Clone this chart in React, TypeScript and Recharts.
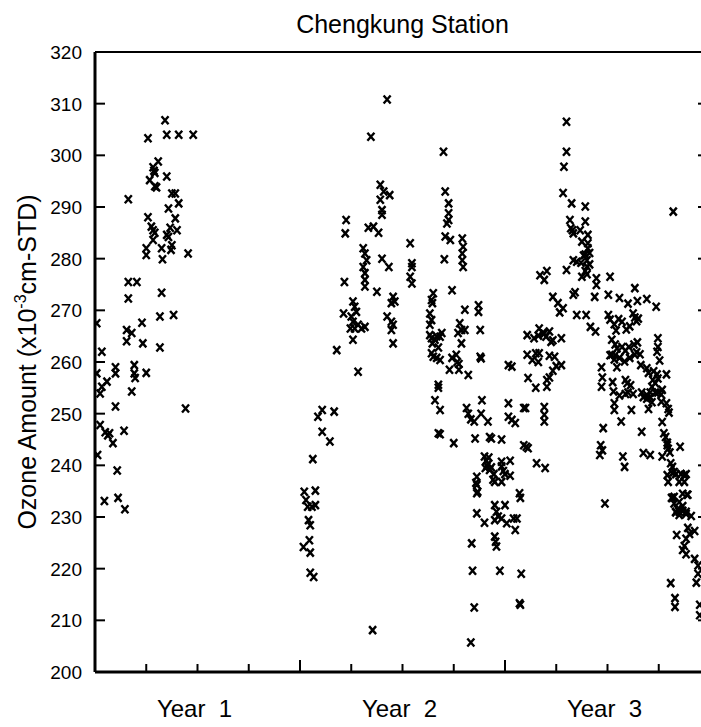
import { Scatter, ScatterChart, XAxis, YAxis } from "recharts";

// month index (0 = start of Year 1) and total ozone (10^-3 cm-STD)
const year1Obs: [number, number][] = [
  [0.1, 267.5], [0.4, 262.0], [0.1, 257.8], [0.4, 255.2], [0.3, 253.9], [0.7, 256.2], [1.2, 259.0], [1.2, 257.8],
  [2.3, 259.4], [2.3, 257.8], [2.35, 256.9], [3.0, 257.9], [2.15, 254.3], [1.2, 251.4], [5.3, 251.0], [0.3, 247.8],
  [0.6, 246.4], [0.75, 245.8], [0.85, 246.2], [1.05, 244.3], [1.7, 246.7], [0.15, 242.0], [1.3, 239.0], [0.55, 233.1],
  [1.35, 233.7], [1.75, 231.5], [1.95, 291.5], [3.1, 303.3], [4.1, 306.8], [4.2, 304.0], [4.9, 304.0], [5.75, 304.0],
  [3.4, 297.7], [3.45, 297.0], [3.5, 296.6], [3.7, 298.8], [3.2, 295.2], [3.5, 294.0], [3.6, 293.8], [4.2, 295.9],
  [4.5, 292.6], [4.7, 292.6], [4.9, 290.7], [4.3, 289.7], [4.7, 287.8], [3.1, 288.0], [3.3, 286.2], [3.4, 285.5],
  [3.5, 285.0], [3.4, 283.6], [3.0, 282.0], [3.0, 280.7], [4.2, 284.6], [4.3, 284.2], [4.4, 286.0], [4.8, 285.5],
  [4.5, 282.6], [4.45, 281.7], [3.9, 282.0], [3.95, 279.9], [5.45, 281.0], [1.95, 275.5], [2.45, 275.5], [1.95, 272.3],
  [3.9, 273.4], [3.8, 268.8], [4.6, 269.1], [2.75, 267.6], [1.85, 266.2], [2.15, 265.6], [1.85, 264.0], [2.8, 263.6],
  [3.8, 262.8],
];

const year2Obs: [number, number][] = [
  [12.25, 234.9], [12.35, 233.3], [12.45, 232.0], [12.7, 232.0], [12.9, 232.3], [12.5, 229.4], [12.6, 228.4],
  [12.55, 225.5], [12.2, 224.2], [12.6, 223.1], [12.6, 219.2], [12.8, 218.4], [12.75, 241.2], [12.9, 235.1],
  [13.05, 249.4], [13.3, 250.7], [14.0, 250.4], [13.3, 246.5], [13.75, 244.6],
  [14.7, 287.5], [14.65, 284.9], [14.6, 275.5], [14.55, 269.4], [14.15, 262.3],
  [15.1, 271.7], [15.2, 270.7], [15.3, 269.7], [15.0, 268.8], [15.1, 267.8], [15.4, 267.2], [14.95, 266.5],
  [15.2, 266.5], [15.6, 266.5], [15.8, 266.8], [15.1, 264.3], [15.4, 258.1], [16.25, 208.1],
  [17.1, 310.8], [16.15, 303.6], [16.7, 294.3], [16.9, 293.0], [17.25, 292.3], [16.7, 291.4], [16.8, 289.4],
  [16.8, 288.5], [16.0, 286.0], [16.3, 286.2], [16.6, 285.0],
  [15.7, 282.0], [15.8, 281.0], [15.9, 279.7], [15.7, 278.4], [15.8, 277.2], [15.8, 275.9], [15.8, 274.6],
  [16.5, 273.6], [16.8, 280.0], [17.2, 278.4],
  [18.45, 283.0], [18.55, 279.1], [18.55, 278.4], [18.45, 276.5], [18.55, 275.2],
  [17.45, 272.6], [17.35, 271.4], [17.55, 271.7], [17.1, 268.8], [17.35, 267.8], [17.45, 267.2], [17.35, 266.2],
  [17.45, 263.6],
  [20.4, 300.7], [20.5, 293.0], [20.7, 290.7], [20.7, 288.8], [20.7, 287.5], [20.6, 286.8], [20.5, 284.3],
  [20.8, 283.6], [20.45, 279.9],
  [21.5, 283.9], [21.55, 282.3], [21.5, 281.0], [21.5, 279.7], [21.55, 278.4], [20.9, 273.9],
  [19.8, 273.3], [19.7, 272.0], [19.75, 271.4], [19.6, 269.4], [19.7, 268.1], [19.6, 267.2],
  [21.65, 270.1], [22.45, 271.0], [22.45, 269.7], [22.55, 266.2], [21.35, 267.5], [21.45, 266.2], [21.25, 265.6],
  [21.65, 266.2], [21.45, 263.6],
  [19.6, 265.2], [19.7, 264.6], [20.0, 265.0], [20.3, 265.6], [19.75, 263.6], [19.9, 264.3], [20.2, 264.9],
  [20.1, 262.8], [22.55, 261.0], [21.15, 261.4], [19.8, 261.0], [19.7, 261.7], [20.0, 260.8], [20.2, 260.4],
  [20.9, 260.8], [21.2, 260.0], [21.3, 259.6], [20.75, 258.5], [21.3, 258.5], [21.85, 257.5], [22.6, 260.7],
  [20.1, 255.6], [20.1, 255.0], [19.9, 252.6], [20.2, 250.7], [22.65, 252.6],
  [21.75, 251.1], [21.85, 250.0], [22.0, 248.9], [22.2, 248.5], [22.6, 250.0], [23.0, 248.5],
  [20.1, 246.2], [20.2, 246.0], [21.0, 244.3], [22.25, 245.2], [23.1, 245.5], [23.2, 245.2], [23.8, 245.0],
  [22.8, 241.7], [22.9, 240.9], [23.0, 240.3], [23.1, 239.1], [22.85, 239.5], [23.2, 239.6], [23.05, 241.5],
  [22.95, 239.9], [23.8, 240.7], [23.8, 239.8], [23.9, 238.9], [23.35, 238.3],
  [23.3, 237.2], [22.35, 237.8], [22.35, 236.2], [22.4, 234.9], [22.3, 236.6], [22.35, 234.6], [23.4, 236.8],
  [23.8, 236.8], [23.4, 232.3], [23.5, 231.0], [23.6, 230.1], [23.4, 229.4], [23.8, 229.7],
  [22.35, 230.7], [22.8, 228.9], [22.05, 224.9], [23.4, 226.2], [23.45, 225.2], [23.5, 224.3], [22.1, 219.6],
  [23.7, 219.6], [22.2, 212.5], [22.0, 205.7],
];

const year3Obs: [number, number][] = [
  [24.0, 232.3], [24.1, 228.8], [24.5, 229.7], [24.7, 229.7], [24.6, 227.5], [24.95, 219.0], [24.85, 213.3],
  [24.9, 213.0], [24.3, 240.9], [24.3, 238.0], [24.0, 238.3], [24.2, 259.4], [24.4, 259.1],
  [24.2, 252.0], [24.2, 249.4], [24.4, 248.8], [24.6, 248.2],
  [24.85, 234.6], [24.9, 233.7], [25.1, 243.9], [25.25, 243.6], [25.35, 243.3], [25.85, 240.4], [26.35, 239.5],
  [25.1, 251.1], [25.2, 251.1], [26.3, 251.3], [26.3, 249.8], [26.3, 248.5],
  [25.35, 256.9], [25.8, 255.0], [26.45, 256.5], [26.45, 255.2],
  [25.3, 261.4], [25.6, 260.4], [25.95, 260.0], [25.8, 261.7],
  [25.3, 265.2], [25.7, 264.6], [25.95, 265.1], [26.2, 265.6], [26.4, 264.9],
  [26.0, 266.5], [26.3, 265.5], [26.6, 265.9], [26.8, 264.2], [26.7, 263.9], [27.3, 264.6],
  [26.0, 261.7], [26.6, 261.2], [26.9, 261.0], [26.6, 257.0], [26.8, 258.3], [27.0, 259.2], [27.3, 259.4],
  [27.6, 306.5], [27.6, 300.7], [27.45, 297.8], [27.4, 292.7], [27.9, 290.7], [28.7, 290.1],
  [27.8, 287.5], [27.85, 285.9], [27.95, 285.5], [28.0, 284.9], [28.7, 287.2], [28.4, 285.5], [28.5, 283.3],
  [28.85, 284.6], [28.85, 283.0], [28.85, 282.0], [28.95, 281.1], [28.7, 280.8], [28.6, 280.6], [28.8, 279.7],
  [28.95, 278.9], [28.8, 278.5], [28.7, 277.6], [28.8, 277.0],
  [28.0, 279.7], [28.2, 279.4], [28.45, 279.2], [27.6, 277.8], [28.5, 276.5], [29.35, 276.2], [29.35, 274.9],
  [30.15, 276.5], [29.25, 272.6], [30.05, 273.0], [30.7, 272.4], [31.2, 271.3], [31.75, 271.8], [32.3, 272.2],
  [32.85, 270.7], [31.6, 274.3],
  [26.8, 272.6], [27.1, 271.4], [27.4, 270.4], [27.2, 269.6], [28.0, 273.0], [28.1, 273.5],
  [26.05, 276.8], [26.45, 277.6], [26.3, 275.9],
  [28.2, 269.1], [28.75, 269.1], [29.0, 266.8], [29.3, 265.9],
  [30.05, 269.1], [30.15, 268.2], [30.4, 267.3], [30.5, 266.1], [30.65, 268.3], [30.85, 267.8], [31.1, 266.3],
  [31.3, 266.9], [31.5, 269.4], [31.6, 268.6], [31.7, 267.9], [31.8, 268.4],
  [30.25, 264.3], [30.45, 263.4], [30.55, 262.6], [30.85, 262.9], [31.05, 262.2], [31.25, 262.9], [31.55, 263.4],
  [31.75, 263.8], [31.9, 261.5], [30.45, 261.3], [30.15, 261.3],
  [32.95, 264.6], [32.95, 262.9], [32.9, 262.0], [33.85, 289.1],
  [30.25, 261.4], [30.4, 260.5], [30.55, 259.0], [30.7, 260.8], [31.0, 260.1], [31.3, 260.8], [31.6, 261.4],
  [31.7, 261.9], [31.95, 259.4], [32.3, 258.8], [32.4, 257.9], [32.7, 258.2], [32.9, 257.6], [33.05, 260.3],
  [33.45, 257.6],
  [29.65, 259.0], [29.7, 257.0], [29.65, 255.2], [30.3, 256.1], [30.35, 254.3], [30.7, 253.5], [31.05, 256.5],
  [31.15, 255.9], [31.35, 255.5], [31.2, 254.1], [31.5, 253.8], [31.05, 253.8], [32.0, 254.1], [32.3, 253.6],
  [32.5, 254.1], [32.6, 255.2], [32.8, 255.9], [32.65, 256.5], [32.95, 256.8],
  [30.4, 252.0], [30.4, 250.7], [30.8, 248.5], [31.4, 250.7],
  [32.1, 253.2], [32.3, 252.9], [32.5, 253.2], [32.6, 252.2], [32.4, 250.9], [32.8, 254.1], [32.95, 254.1],
  [33.15, 253.7], [33.15, 252.3], [33.45, 252.0], [33.55, 250.9], [33.6, 250.2], [33.2, 254.6],
  [29.75, 247.2], [32.0, 246.5],
  [33.2, 248.4], [33.3, 246.2], [33.4, 245.5], [33.5, 244.4], [33.55, 243.2], [33.65, 242.5],
  [29.6, 243.9], [29.55, 242.0], [29.7, 242.9], [30.9, 241.7], [31.0, 239.7], [32.1, 242.4], [32.5, 242.0],
  [33.2, 241.7], [33.5, 243.9], [34.25, 243.6], [33.7, 240.4], [33.8, 239.7],
  [33.5, 238.1], [33.8, 238.5], [34.0, 238.3], [34.3, 238.3], [34.5, 238.1], [34.6, 238.3], [33.9, 238.7],
  [33.8, 233.7], [33.9, 232.6], [34.2, 232.9], [34.1, 231.5], [34.4, 232.1], [34.6, 231.0], [34.2, 231.0],
  [34.65, 234.3], [34.0, 231.0], [29.85, 232.6],
  [33.55, 236.8], [34.2, 236.8], [34.5, 236.8], [33.75, 233.7], [33.9, 233.9], [34.4, 234.5], [34.7, 234.3],
  [34.0, 230.9], [34.2, 230.4], [34.4, 231.2], [34.6, 230.6], [34.9, 230.2],
  [34.05, 226.5], [34.7, 227.9], [35.1, 227.3], [34.8, 226.7], [34.6, 225.8], [34.5, 224.4], [34.4, 223.6],
  [34.6, 222.8], [35.1, 221.9], [35.3, 220.6], [35.3, 219.0], [35.2, 217.3],
  [33.7, 217.2], [33.95, 214.3], [33.95, 212.6], [35.4, 213.0], [35.4, 211.0],
];

const monthTicks = [0, 3, 6, 9, 12, 15, 18, 21, 24, 27, 30, 33, 36];
const ozoneTicks = [200, 210, 220, 230, 240, 250, 260, 270, 280, 290, 300, 310, 320];
const yearLabels: Record<number, string> = { 6: "Year  1", 18: "Year  2", 30: "Year  3" };

const points = [...year1Obs, ...year2Obs, ...year3Obs].map(([m, v]) => ({ m, v }));

const FONT = '"Liberation Sans", Arial, Helvetica, sans-serif';

function XMark(props: any) {
  const { cx, cy } = props;
  if (cx == null || cy == null) return null;
  return (
    <path
      d={`M${cx - 3.5},${cy - 4}L${cx + 3.5},${cy + 4}M${cx + 3.5},${cy - 4}L${cx - 3.5},${cy + 4}`}
      stroke="#000"
      strokeWidth={2.4}
      fill="none"
    />
  );
}

function BottomTick({ x, y, payload }: any) {
  const v = payload.value;
  const label = yearLabels[v];
  return (
    <g>
      {v > 0 && v < 36 && (
        <line x1={x} x2={x} y1={y} y2={y - (v % 12 === 0 ? 12 : 8)} stroke="#000" strokeWidth={2} />
      )}
      {label && (
        <text x={x - 3} y={y + 45} textAnchor="middle" fontSize={24} fontFamily={FONT} fill="#000"
          style={{ whiteSpace: "pre" }}>
          {label}
        </text>
      )}
    </g>
  );
}

function TopTick({ x, y, payload }: any) {
  const v = payload.value;
  if (v <= 0 || v >= 36) return <g />;
  return <line x1={x} x2={x} y1={y} y2={y + (v % 12 === 0 ? 10 : 7)} stroke="#000" strokeWidth={2} />;
}

function LeftTick({ x, y, payload }: any) {
  const v = payload.value;
  return (
    <g>
      {v > 200 && v < 320 && <line x1={x + 13} x2={x + 23} y1={y} y2={y} stroke="#000" strokeWidth={2} />}
      <text x={x} y={y} dy={7} textAnchor="end" fontSize={19} fontFamily={FONT} fill="#000">
        {v}
      </text>
    </g>
  );
}

function RightTick({ x, y, payload }: any) {
  const v = payload.value;
  if (v <= 200 || v >= 320) return <g />;
  return <line x1={x} x2={x - 12} y1={y} y2={y} stroke="#000" strokeWidth={2} />;
}

function ChartTitle(props: any) {
  const vb = props.viewBox;
  return (
    <text x={vb.x + vb.width / 2} y={33} textAnchor="middle" fontSize={25} fontFamily={FONT} fill="#000">
      Chengkung Station
    </text>
  );
}

function OzoneTitle(props: any) {
  const vb = props.viewBox;
  const cy = vb.y + vb.height / 2;
  return (
    <text x={36} y={cy} transform={`rotate(-90 36 ${cy})`} textAnchor="middle" fontSize={25}
      fontFamily={FONT} fill="#000">
      Ozone Amount (x10
      <tspan fontSize={16} dy={-10}>-3</tspan>
      <tspan dy={10}>cm-STD)</tspan>
    </text>
  );
}

export default function App() {
  return (
    <div style={{ position: "fixed", left: 0, top: 0, width: 701, height: 727, overflow: "hidden", background: "#fff" }}>
      <ScatterChart width={720} height={727} margin={{ top: 32, right: 0, bottom: 0, left: 0 }}>
        <XAxis
          xAxisId="bottom"
          type="number"
          dataKey="m"
          domain={[0, 36]}
          ticks={monthTicks}
          interval={0}
          allowDataOverflow
          height={55}
          tickSize={0}
          tickMargin={0}
          tickLine={false}
          tick={BottomTick}
          axisLine={{ stroke: "#000", strokeWidth: 3 }}
        />
        <XAxis
          xAxisId="top"
          orientation="top"
          type="number"
          domain={[0, 36]}
          ticks={monthTicks}
          interval={0}
          allowDataOverflow
          height={20}
          tickSize={0}
          tickMargin={0}
          tickLine={false}
          tick={TopTick}
          axisLine={{ stroke: "#000", strokeWidth: 2 }}
          label={ChartTitle}
        />
        <YAxis
          yAxisId="left"
          type="number"
          dataKey="v"
          domain={[200, 320]}
          ticks={ozoneTicks}
          interval={0}
          allowDataOverflow
          width={95}
          tickSize={0}
          tickMargin={13}
          tickLine={false}
          tick={LeftTick}
          axisLine={{ stroke: "#000", strokeWidth: 3 }}
          label={OzoneTitle}
        />
        <YAxis
          yAxisId="right"
          orientation="right"
          type="number"
          domain={[200, 320]}
          ticks={ozoneTicks}
          interval={0}
          allowDataOverflow
          width={10}
          tickSize={0}
          tickMargin={0}
          tickLine={false}
          tick={RightTick}
          axisLine={{ stroke: "#000", strokeWidth: 2 }}
        />
        <Scatter
          data={points}
          xAxisId="bottom"
          yAxisId="left"
          shape={XMark}
          isAnimationActive={false}
        />
      </ScatterChart>
    </div>
  );
}
